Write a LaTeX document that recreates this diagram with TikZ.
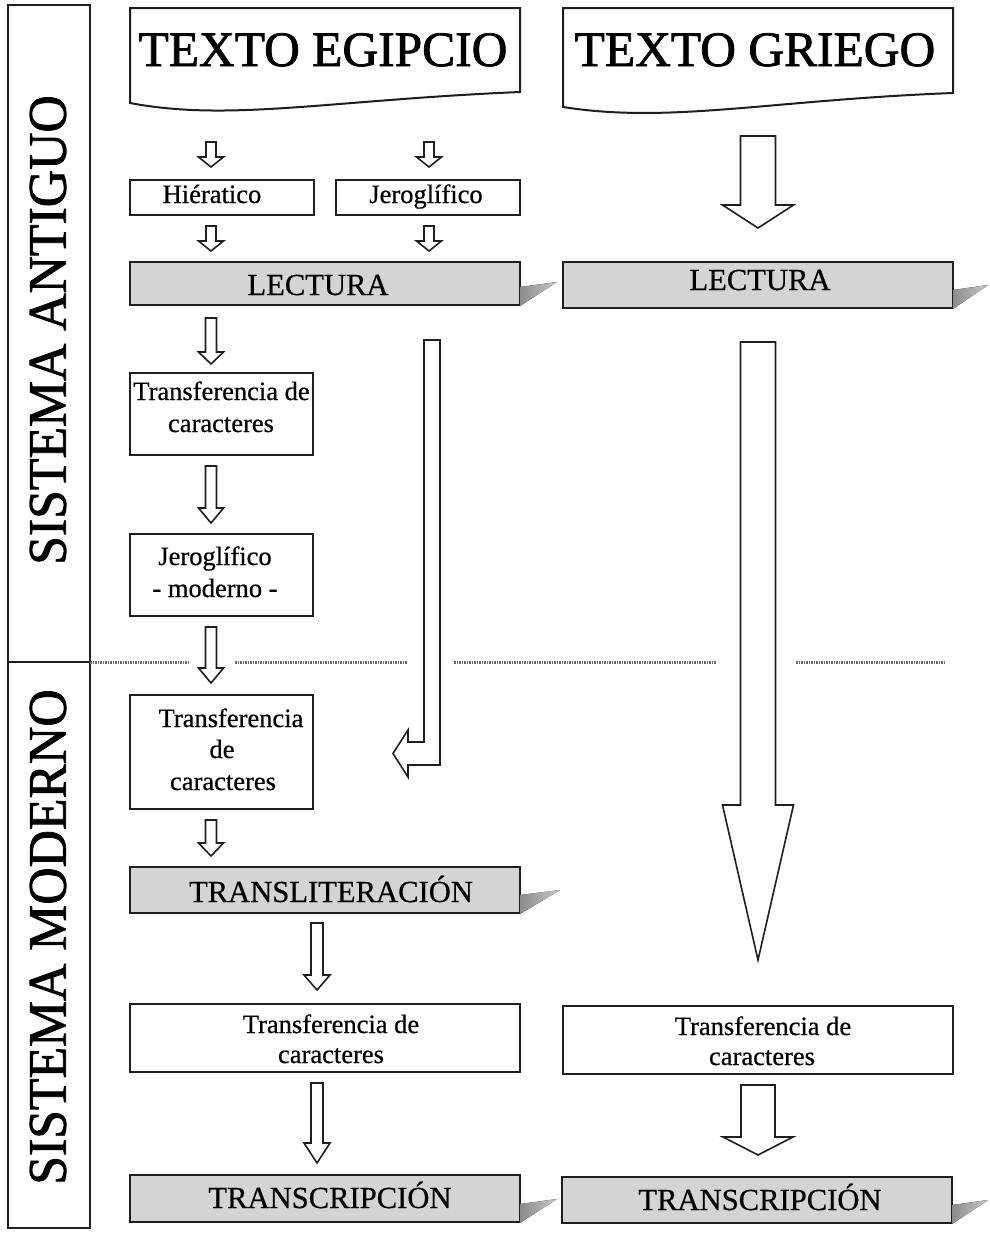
\documentclass[tikz,border=0pt]{standalone}
\usepackage{fontspec}
\setmainfont{Liberation Serif}
\newfontfamily\heavyserif[FakeBold=1.5]{Liberation Serif}
\newfontfamily\midserif[FakeBold=0.6]{Liberation Serif}
\usetikzlibrary{calc}
\definecolor{boxgray}{RGB}{212,212,212}
\definecolor{shdark}{RGB}{140,140,140}
\definecolor{shlight}{RGB}{200,200,200}
\definecolor{edge}{RGB}{30,30,30}
\definecolor{dotgray}{RGB}{105,105,105}
\newcommand{\dnarrow}[6]{%
  \draw[arrowshape] (#1-#4,#2) -- (#1+#4,#2) -- (#1+#4,#3-#6) -- (#1+#5,#3-#6)
    -- (#1,#3) -- (#1-#5,#3-#6) -- (#1-#4,#3-#6) -- cycle;}
\newcommand{\boxshadow}[2]{%
  \fill[shadowfill] ($(#1.south east)+(0,-18)$) -- ($(#1.south east)+(#2,-23)$)
    -- ($(#1.south east)+(0,1)$) -- cycle;}
\tikzset{
  box/.style={draw=edge, line width=2pt, fill=white, inner sep=0pt, outer sep=0pt},
  graybox/.style={box, fill=boxgray},
  arrowshape/.style={draw=edge, line width=1.6pt, fill=white, line join=miter},
  shadowfill/.style={left color=shdark, right color=shlight},
  lbl/.style={anchor=base, inner sep=0pt, font=\midserif\fontsize{26.5}{30}\selectfont},
  big/.style={anchor=base, inner sep=0pt, font=\midserif\fontsize{30.6}{32}\selectfont},
  title/.style={anchor=base, inner sep=0pt, font=\heavyserif\fontsize{49.5}{52}\selectfont},
  side/.style={inner sep=0pt, rotate=90, font=\heavyserif\fontsize{51.7}{54}\selectfont},
  frameline/.style={draw=edge, line width=2pt},
  sep/.style={draw=dotgray, line width=3pt, dash pattern=on 1.5pt off 1pt},
}
\begin{document}
\begin{tikzpicture}[x=1pt, y=-1pt]
\useasboundingbox (0,0) rectangle (989,1235);
\fill[white] (0,0) rectangle (989,1235);

% side frame
\draw[frameline] (8,5) rectangle (90,1228);
\draw[frameline] (8,662) -- (90,662);
\node[side] (antiguo) at (48,330) {\scalebox{1}[1.05]{SISTEMA ANTIGUO}};
\node[side] (moderno) at (48,937) {\scalebox{1}[1.05]{SISTEMA MODERNO}};

% separator
\draw[sep] (90,662) -- (189,662);
\draw[sep] (235,662) -- (407,662);
\draw[sep] (454,662) -- (716,662);
\draw[sep] (796,662) -- (946,662);

% document shapes
\draw[box] (130,103) -- (130,8) -- (520,8) -- (520,92)
  .. controls (330,100) and (230,122) .. cycle;
\node[title] (egipT) at (323,66) {TEXTO EGIPCIO};
\draw[box] (563,107) -- (563,8) -- (953,8) -- (953,93)
  .. controls (770,100) and (670,124) .. cycle;
\node[title] (griegoT) at (755,66) {TEXTO GRIEGO};

% boxes
\node[box, minimum width=184pt, minimum height=35pt] (hier) at (222,197.5) {};
\node[lbl] (hierT) at (212,203) {Hiératico};
\node[box, minimum width=184pt, minimum height=35pt] (jero) at (428,197.5) {};
\node[lbl] (jeroT) at (426,203) {Jeroglífico};

\node[graybox, minimum width=390pt, minimum height=43pt] (lectL) at (325,283.5) {};
\node[big] (lectLT) at (318,295) {LECTURA};
\node[graybox, minimum width=390pt, minimum height=46pt] (lectR) at (758,285) {};
\node[big] (lectRT) at (760,290) {LECTURA};

\node[box, minimum width=183pt, minimum height=82pt] (tr1) at (221.5,414) {};
\node[lbl] (tr1a) at (221.5,400) {Transferencia de};
\node[lbl] (tr1b) at (221,432) {caracteres};

\node[box, minimum width=183pt, minimum height=82pt] (jmod) at (221.5,575) {};
\node[lbl] (jmoda) at (215,565) {Jeroglífico};
\node[lbl] (jmodb) at (215,597) {- moderno -};

\node[box, minimum width=183pt, minimum height=114pt] (tr2) at (221.5,752) {};
\node[lbl] (tr2a) at (231,727) {Transferencia};
\node[lbl] (tr2b) at (222,758) {de};
\node[lbl] (tr2c) at (223,790) {caracteres};

\node[graybox, minimum width=390pt, minimum height=46pt] (translit) at (325,890) {};
\node[big] (translitT) at (331,902) {TRANSLITERACIÓN};

\node[box, minimum width=390pt, minimum height=68pt] (tr3) at (325,1038) {};
\node[lbl] (tr3a) at (331,1033) {Transferencia de};
\node[lbl] (tr3b) at (331,1063) {caracteres};

\node[graybox, minimum width=390pt, minimum height=47pt] (transcL) at (325,1198.5) {};
\node[big] (transcLT) at (330,1208) {TRANSCRIPCIÓN};

\node[box, minimum width=390pt, minimum height=68pt] (trR) at (758,1040) {};
\node[lbl] (trRa) at (763,1035) {Transferencia de};
\node[lbl] (trRb) at (762,1065) {caracteres};

\node[graybox, minimum width=390pt, minimum height=46pt] (transcR) at (757,1200) {};
\node[big] (transcRT) at (760,1210) {TRANSCRIPCIÓN};

% shadows
\boxshadow{lectL}{37}
\boxshadow{lectR}{35}
\boxshadow{translit}{40}
\boxshadow{transcL}{37}
\boxshadow{transcR}{36}

% block arrows
\dnarrow{211}{142}{167}{5}{12.5}{10}
\dnarrow{429}{142}{167}{5}{12.5}{10}
\dnarrow{211}{226}{251}{5}{12.5}{10}
\dnarrow{429}{226}{251}{5}{12.5}{10}
\dnarrow{211}{318}{364}{5.5}{12.5}{12}
\dnarrow{211}{466}{523}{5.5}{12.5}{15}
\dnarrow{211}{627}{683}{5.5}{12.5}{15}
\dnarrow{211}{820}{856}{5.5}{12.5}{13}
\dnarrow{317}{923}{990}{6}{13}{15}
\dnarrow{317}{1083}{1163}{6}{13}{20}
\dnarrow{758}{136}{228}{17.5}{35.5}{23}
\dnarrow{758}{342}{960}{17.5}{35.5}{155}
\dnarrow{758}{1085}{1155}{17}{35}{18}
% bent arrow
\draw[arrowshape] (424,340) -- (440,340) -- (440,765) -- (408,765) -- (408,777)
  -- (393,753.5) -- (408,730) -- (408,742) -- (424,742) -- cycle;
\end{tikzpicture}
\end{document}
